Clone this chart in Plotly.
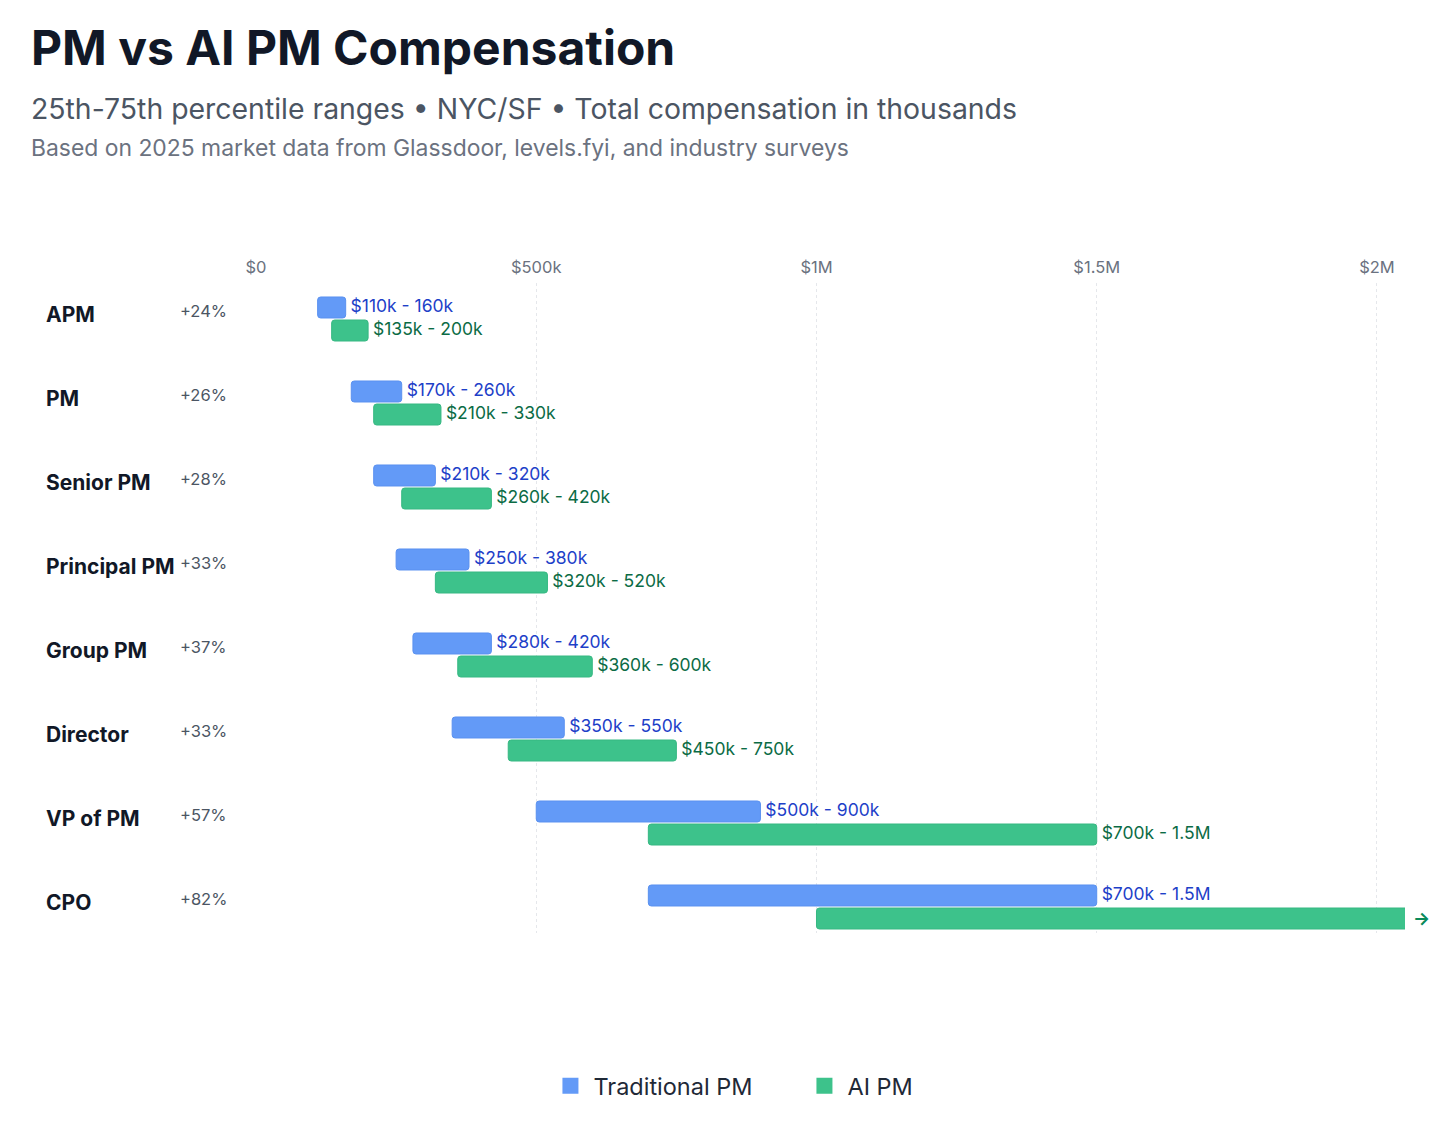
import plotly.graph_objects as go

roles = ["APM", "PM", "Senior PM", "Principal PM", "Group PM", "Director", "VP of PM", "CPO"]
trad_low = [110, 170, 210, 250, 280, 350, 500, 700]
trad_high = [160, 260, 320, 380, 420, 550, 900, 1500]
ai_low = [135, 210, 260, 320, 360, 450, 700, 1000]
ai_high = [200, 330, 420, 520, 600, 750, 1500, 3000]
pct_labels = ["+24%", "+26%", "+28%", "+33%", "+37%", "+33%", "+57%", "+82%"]
tick_vals = [0, 500, 1000, 1500, 2000]
tick_text = ["$0", "$500k", "$1M", "$1.5M", "$2M"]
x_max = 2050

BLUE = "#639AF7"
GREEN = "#3DC28B"
BLUE_TXT = "#1D40C8"
GREEN_TXT = "#0B6B45"
FONT = "Inter, Roboto, sans-serif"

W, H = 1440, 1108
OX, OY = 8, 8  # page offset (body margin)
APAD = 2       # annotation inner padding


def fmt(v):
    if v >= 1000:
        s = f"{v/1000:.1f}".rstrip("0").rstrip(".")
        return s + "M"
    return f"{v}k"


def rng_label(lo, hi):
    # labels of ranges running past the axis end are not shown
    return f" ${fmt(lo)} - {fmt(hi)}" if hi <= x_max else ""


ys = list(range(len(roles)))
off = 0.137
bw = 0.25

fig = go.Figure()
fig.add_trace(go.Bar(
    name="Traditional PM", orientation="h",
    y=[y - off for y in ys], x=[h - l for l, h in zip(trad_low, trad_high)], base=trad_low,
    width=bw, marker=dict(color=BLUE, line=dict(color="#5A91F0", width=1)),
    hoverinfo="skip", showlegend=False,
))
fig.add_trace(go.Bar(
    name="AI PM", orientation="h",
    y=[y + off for y in ys], x=[h - l for l, h in zip(ai_low, ai_high)], base=ai_low,
    width=bw, marker=dict(color=GREEN, line=dict(color="#36B882", width=1)),
    hoverinfo="skip", showlegend=False,
))
fig.add_trace(go.Scatter(
    x=trad_high, y=[y - off for y in ys], mode="text",
    text=[rng_label(l, h) for l, h in zip(trad_low, trad_high)],
    textposition="middle right", textfont=dict(color=BLUE_TXT, size=17.5, family=FONT),
    cliponaxis=True, showlegend=False, hoverinfo="skip",
))
fig.add_trace(go.Scatter(
    x=[min(h, x_max) for h in ai_high], y=[y + off for y in ys], mode="text",
    text=[rng_label(l, h) for l, h in zip(ai_low, ai_high)],
    textposition="middle right", textfont=dict(color=GREEN_TXT, size=17.5, family=FONT),
    cliponaxis=False, showlegend=False, hoverinfo="skip",
))
# legend entries
fig.add_trace(go.Scatter(x=[None], y=[None], mode="markers", name="Traditional PM",
                         marker=dict(symbol="square", size=16, color=BLUE)))
fig.add_trace(go.Scatter(x=[None], y=[None], mode="markers", name="AI PM",
                         marker=dict(symbol="square", size=16, color=GREEN)))

L, R = 256 - OX, 1405 - OX
T, B = 283 - OY, 933 - OY
pw = R - L
ph = B - T


def px2paper(px):
    return (px - APAD - OX - L) / pw


def py2paper(py):
    return 1 - (py - OY - T) / ph


fig_annots = []
for i, r in enumerate(roles):
    fig_annots.append(dict(text=f"<b>{r}</b>", x=px2paper(46), y=i, xref="paper", yref="y",
                           showarrow=False, xanchor="left", yanchor="middle", yshift=5,
                           font=dict(size=21, color="#111827", family=FONT)))
    fig_annots.append(dict(text=pct_labels[i], x=px2paper(180), y=i, xref="paper", yref="y",
                           showarrow=False, xanchor="left", yanchor="middle", yshift=8,
                           font=dict(size=16.5, color="#4B5563", family=FONT)))

heads = [
    dict(text="<b>PM vs AI PM Compensation</b>", x=px2paper(31), y=py2paper(48),
         font=dict(size=48, color="#111827", family=FONT)),
    dict(text="25th-75th percentile ranges • NYC/SF • Total compensation in thousands",
         x=px2paper(31), y=py2paper(108), font=dict(size=28.4, color="#4B5563", family=FONT)),
    dict(text="Based on 2025 market data from Glassdoor, levels.fyi, and industry surveys",
         x=px2paper(31), y=py2paper(148), font=dict(size=22.9, color="#6B7280", family=FONT)),
]
for h in heads:
    h.update(xref="paper", yref="paper", xanchor="left", yanchor="middle", showarrow=False)
    fig_annots.append(h)

fig_annots.append(dict(text="<b>→</b>", x=px2paper(1413), y=len(roles) - 1 + off, xref="paper", yref="y",
                       showarrow=False, xanchor="left", yanchor="middle",
                       font=dict(size=18, color="#0B8A5A", family=FONT)))

row_px = 84
row0 = 319 - OY
y_top = -(row0 - T) / row_px
y_bot = (B - row0) / row_px

fig.update_layout(
    width=W, height=H,
    margin=dict(l=L, r=W - R, t=T, b=H - B),
    plot_bgcolor="white", paper_bgcolor="white",
    barmode="overlay", barcornerradius=3,
    font=dict(family=FONT),
    annotations=fig_annots,
    xaxis=dict(range=[0, x_max], side="top", tickvals=tick_vals, ticktext=tick_text,
               showgrid=True, gridcolor="#E5E7EB", griddash="3px,3px", gridwidth=1,
               zeroline=False, showline=False, ticks="", ticklabelstandoff=6,
               tickfont=dict(size=16.5, color="#6B7280", family=FONT)),
    yaxis=dict(range=[y_bot, y_top], showticklabels=False, showgrid=False, zeroline=False,
               showline=False, ticks=""),
    legend=dict(orientation="h", xref="container", yref="container", x=0.551, y=1 - (1086 - OY) / H,
                xanchor="center", yanchor="middle", font=dict(size=23.5, color="#1F2937", family=FONT),
                itemwidth=36, tracegroupgap=0, entrywidth=203, entrywidthmode="pixels"),
)

fig.write_html("out.html")
